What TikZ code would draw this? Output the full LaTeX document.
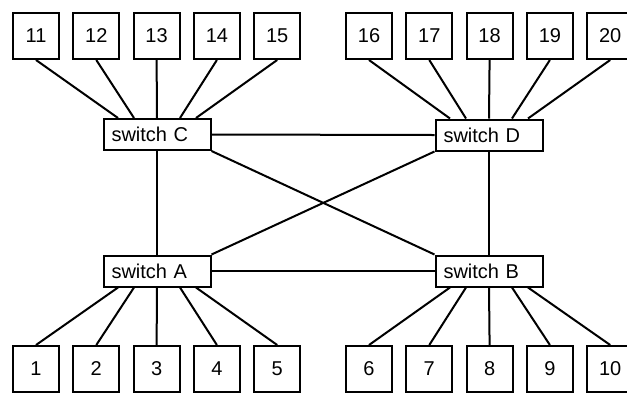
\documentclass[tikz,border=0pt]{standalone}
\usepackage{fontspec}
\setmainfont{Liberation Sans}
\begin{document}
\begin{tikzpicture}[x=1pt,y=-1pt,
  hostbox/.style={draw,line width=2pt,minimum width=46pt,minimum height=46pt,inner sep=0pt,
    font=\fontsize{20pt}{23pt}\selectfont},
  switchbox/.style={draw,line width=2pt,minimum width=107pt,minimum height=31pt,inner xsep=8pt,inner ysep=0pt,
    text width=91pt,align=left,font=\fontsize{20pt}{23pt}\selectfont},
  link/.style={line width=2pt}]
\useasboundingbox (0,0) rectangle (627,392);
\clip (0,0) rectangle (627,392);
% switches
\node[switchbox] (C) at (157,134.5) {switch C};
\node[switchbox] (D) at (489,135) {switch D};
\node[switchbox] (A) at (157,271) {switch A};
\node[switchbox] (B) at (489,271) {switch B};
% top hosts
\node[hostbox] (h11) at (36,36) {11};
\node[hostbox] (h12) at (96.3,36) {12};
\node[hostbox] (h13) at (156.6,36) {13};
\node[hostbox] (h14) at (216.9,36) {14};
\node[hostbox] (h15) at (277.2,36) {15};
\node[hostbox] (h16) at (369,36) {16};
\node[hostbox] (h17) at (429.3,36) {17};
\node[hostbox] (h18) at (489.6,36) {18};
\node[hostbox] (h19) at (549.9,36) {19};
\node[hostbox] (h20) at (610.2,36) {20};
% bottom hosts
\node[hostbox] (h1) at (36,369) {1};
\node[hostbox] (h2) at (96.3,369) {2};
\node[hostbox] (h3) at (156.6,369) {3};
\node[hostbox] (h4) at (216.9,369) {4};
\node[hostbox] (h5) at (277.2,369) {5};
\node[hostbox] (h6) at (369,369) {6};
\node[hostbox] (h7) at (429.3,369) {7};
\node[hostbox] (h8) at (489.6,369) {8};
\node[hostbox] (h9) at (549.9,369) {9};
\node[hostbox] (h10) at (610.2,369) {10};
% host links
\draw[link] (h11.south) -- ([xshift=-39pt]C.north);
\draw[link] (h12.south) -- ([xshift=-23pt]C.north);
\draw[link] (h13.south) -- (C.north);
\draw[link] (h14.south) -- ([xshift=23pt]C.north);
\draw[link] (h15.south) -- ([xshift=39pt]C.north);
\draw[link] (h16.south) -- ([xshift=-39pt]D.north);
\draw[link] (h17.south) -- ([xshift=-23pt]D.north);
\draw[link] (h18.south) -- (D.north);
\draw[link] (h19.south) -- ([xshift=23pt]D.north);
\draw[link] (h20.south) -- ([xshift=39pt]D.north);
\draw[link] (h1.north) -- ([xshift=-39pt]A.south);
\draw[link] (h2.north) -- ([xshift=-23pt]A.south);
\draw[link] (h3.north) -- (A.south);
\draw[link] (h4.north) -- ([xshift=23pt]A.south);
\draw[link] (h5.north) -- ([xshift=39pt]A.south);
\draw[link] (h6.north) -- ([xshift=-39pt]B.south);
\draw[link] (h7.north) -- ([xshift=-23pt]B.south);
\draw[link] (h8.north) -- (B.south);
\draw[link] (h9.north) -- ([xshift=23pt]B.south);
\draw[link] (h10.north) -- ([xshift=39pt]B.south);
% switch links
\draw[link] (C.east) -- (D.west);
\draw[link] (A.east) -- (B.west);
\draw[link] (C.south) -- (A.north);
\draw[link] (D.south) -- (B.north);
\draw[link] (C.south east) -- (B.north west);
\draw[link] (D.south west) -- (A.north east);
\end{tikzpicture}
\end{document}
